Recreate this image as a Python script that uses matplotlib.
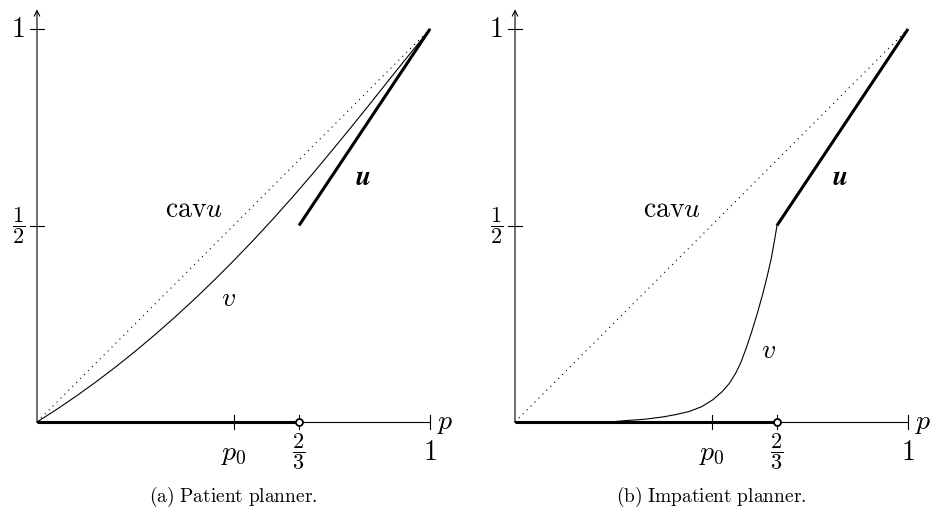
import matplotlib
matplotlib.use("Agg")
import matplotlib.pyplot as plt

plt.rcParams['mathtext.fontset'] = 'cm'

# value function v
p_patient = [0, 0.05, 0.1, 0.15, 0.2, 0.25, 0.3, 0.35, 0.4, 0.45, 0.5,
             0.55, 0.6, 0.65, 0.7, 0.75, 0.8, 0.85, 0.9, 0.95, 1.0]
v_patient = [0, 0.032, 0.066, 0.102, 0.14, 0.18, 0.222, 0.266, 0.312, 0.36, 0.41,
             0.462, 0.516, 0.572, 0.63, 0.69, 0.751, 0.813, 0.876, 0.938, 1.0]

p_impatient = [0, 0.24, 0.275, 0.33, 0.377, 0.41, 0.444, 0.475, 0.504, 0.527, 0.546, 0.562,
               0.575, 0.589, 0.603, 0.617, 0.631, 0.642, 0.652, 0.66, 2 / 3]
v_impatient = [0, 0, 0.003, 0.007, 0.013, 0.019, 0.027, 0.039, 0.057, 0.077, 0.099, 0.125,
               0.152, 0.19, 0.232, 0.278, 0.328, 0.372, 0.416, 0.46, 0.5]

# payoff u: 0 on [0, 2/3), then the line from (2/3, 1/2) to (1, 1)
u_low_p = [0, 2 / 3]
u_low_v = [0, 0]
u_high_p = [2 / 3, 1]
u_high_v = [0.5, 1]
cav_p = [0, 1]
cav_v = [0, 1]

x_ticks = [0.5, 2 / 3, 1]
x_labels = [r'$p_0$', r'$\dfrac{2}{3}$', r'$1$']
y_ticks = [0.5, 1]
y_labels = [r'$\dfrac{1}{2}$', r'$1$']

panels = [
    (p_patient, v_patient, (0.40, 0.542), (0.828, 0.624), (0.488, 0.315),
     r'$\mathrm{(a)\ Patient\ planner.}$', 37),
    (p_impatient, v_impatient, (0.40, 0.542), (0.827, 0.624), (0.646, 0.183),
     r'$\mathrm{(b)\ Impatient\ planner.}$', 515),
]

W, H = 934, 520
fig = plt.figure(figsize=(W / 100, H / 100), dpi=100)

for p_v, v_v, cav_xy, u_xy, v_xy, caption, x0 in panels:
    ax = fig.add_axes([x0 / W, (H - 422) / H, 393 / W, 393 / H])
    ax.set_xlim(0, 1)
    ax.set_ylim(0, 1)
    ax.axis('off')

    # axes
    ax.plot([0, 1], [0, 0], color='black', lw=0.8, clip_on=False)
    ax.annotate('', xy=(0, 1.05), xytext=(0, 0), annotation_clip=False,
                arrowprops=dict(arrowstyle='->', lw=0.8, color='black',
                                shrinkA=0, shrinkB=0, mutation_scale=10))
    for t in x_ticks:
        ax.plot([t, t], [-0.017, 0.017], color='black', lw=0.8, clip_on=False)
    for t in y_ticks:
        ax.plot([-0.017, 0.017], [t, t], color='black', lw=0.8, clip_on=False)

    ax.text(0.5, -0.097, x_labels[0], ha='center', va='baseline', fontsize=20)
    ax.text(2 / 3, -0.076, x_labels[1], ha='center', va='center', fontsize=16)
    ax.text(1, -0.097, x_labels[2], ha='center', va='baseline', fontsize=20)
    ax.text(-0.048, 0.5, y_labels[0], ha='center', va='center', fontsize=16)
    ax.text(-0.048, 1, y_labels[1], ha='center', va='center', fontsize=20)
    ax.text(1.04, 0.0, r'$p$', ha='center', va='center', fontsize=20)

    # curves
    ax.plot(cav_p, cav_v, color='black', lw=0.8, ls=(0, (1, 4)), clip_on=False)
    ax.plot(p_v, v_v, color='black', lw=0.8, clip_on=False)
    ax.plot(u_low_p, u_low_v, color='black', lw=2.2, solid_capstyle='butt', clip_on=False)
    ax.plot(u_high_p, u_high_v, color='black', lw=2.2, solid_capstyle='butt', clip_on=False)
    ax.plot([2 / 3], [0], marker='o', ms=5, mfc='white', mec='black', mew=1.3,
            clip_on=False, zorder=5)

    ax.text(*cav_xy, r'$\mathrm{cav}u$', ha='center', va='center', fontsize=20)
    ax.text(*u_xy, r'$\mathbfit{u}$', ha='center', va='center', fontsize=20)
    ax.text(*v_xy, r'$v$', ha='center', va='center', fontsize=20)

    fig.text((x0 + 196) / W, 1 - 497 / H, caption, ha='center', va='center', fontsize=14)

fig.savefig('out.png', dpi=100)
